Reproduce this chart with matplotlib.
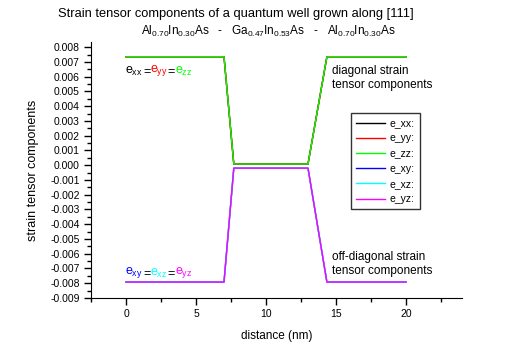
import matplotlib
matplotlib.use("Agg")
import matplotlib.pyplot as plt
from matplotlib.ticker import MultipleLocator, FuncFormatter

plt.rcParams['font.family'] = ['Liberation Sans', 'DejaVu Sans']
plt.rcParams['mathtext.fontset'] = 'custom'
plt.rcParams['mathtext.rm'] = 'Liberation Sans'
plt.rcParams['mathtext.it'] = 'Liberation Sans'

# data
distance = [0, 7.0, 7.7, 13.0, 14.35, 20]
e_xx = [0.00735, 0.00735, 0.00008, 0.00008, 0.00735, 0.00735]
e_yy = [0.00735, 0.00735, 0.00008, 0.00008, 0.00735, 0.00735]
e_zz = [0.00735, 0.00735, 0.00008, 0.00008, 0.00735, 0.00735]
e_xy = [-0.00792, -0.00792, -0.0002, -0.0002, -0.00792, -0.00792]
e_xz = [-0.00792, -0.00792, -0.0002, -0.0002, -0.00792, -0.00792]
e_yz = [-0.00792, -0.00792, -0.0002, -0.0002, -0.00792, -0.00792]
series = [("e_xx:", e_xx, "#000000"), ("e_yy:", e_yy, "#ff0000"),
          ("e_zz:", e_zz, "#00ff00"), ("e_xy:", e_xy, "#0000ff"),
          ("e_xz:", e_xz, "#00ffff"), ("e_yz:", e_yz, "#ff00ff")]

fig = plt.figure(figsize=(5.08, 3.57), dpi=100)
ax = fig.add_axes([91/508, 59/357, (462-91)/508, (298-42)/357])

for name, vals, col in series:
    ax.plot(distance, vals, color=col, lw=1.0, label=name)

ax.set_xlim(-2.5, 24)
ax.set_ylim(-0.009, 0.00835)
ax.xaxis.set_major_locator(MultipleLocator(5))
ax.xaxis.set_minor_locator(MultipleLocator(2.5))
ax.yaxis.set_major_locator(MultipleLocator(0.001))
ax.yaxis.set_minor_locator(MultipleLocator(0.0005))

def yfmt(v, pos):
    if abs(v) < 1e-9:
        return "0.000"
    return "%.3f" % v

ax.yaxis.set_major_formatter(FuncFormatter(yfmt))
for s in ['top', 'right']:
    ax.spines[s].set_visible(False)
ax.tick_params(which='major', direction='out', length=5, width=1, labelsize=7.5, pad=3)
ax.tick_params(which='minor', direction='out', length=3, width=1)

ax.set_xlabel("distance (nm)", fontsize=8.5, labelpad=8)
ax.set_ylabel("strain tensor components", fontsize=9, labelpad=8)

fig.text(0.465, 0.96, "Strain tensor components of a quantum well grown along [111]",
         ha='center', va='center', fontsize=9.3)
fig.text(0.528, 0.913,
         r"Al$_{0.70}$In$_{0.30}$As   -   Ga$_{0.47}$In$_{0.53}$As   -   Al$_{0.70}$In$_{0.30}$As",
         ha='center', va='center', fontsize=8.5)

def colored(x, y, parts):
    t = ax.text(x, y, parts[0][0], color=parts[0][1], fontsize=9, va='baseline', ha='left')
    for s, c in parts[1:]:
        t = ax.annotate(s, xy=(1, 0), xycoords=t, xytext=(0, 0), textcoords='offset points',
                        color=c, fontsize=9, va='bottom', ha='left')

colored(-0.05, 0.0062, [(r"$e_{xx}$", "#000000"), ("=", "#000000"), (r"$e_{yy}$", "#ff0000"),
                        ("=", "#000000"), (r"$e_{zz}$", "#00ff00")])
colored(-0.05, -0.00735, [(r"$e_{xy}$", "#0000ff"), ("=", "#000000"), (r"$e_{xz}$", "#00ffff"),
                          ("=", "#000000"), (r"$e_{yz}$", "#ff00ff")])

ax.text(14.75, 0.0059, "diagonal strain\ntensor components", fontsize=8.5,
        va='center', ha='left', linespacing=1.3)
ax.text(14.75, -0.0067, "off-diagonal strain\ntensor components", fontsize=8.5,
        va='center', ha='left', linespacing=1.3)

leg = ax.legend(loc='upper left', bbox_to_anchor=((351-91)/371, (298-113)/256),
                fontsize=7.5, frameon=True, fancybox=False, edgecolor='black',
                handlelength=2.8, handletextpad=0.4, labelspacing=0.5, borderpad=0.5,
                borderaxespad=0)
leg.get_frame().set_linewidth(1.0)

fig.savefig("out.png", dpi=100)
